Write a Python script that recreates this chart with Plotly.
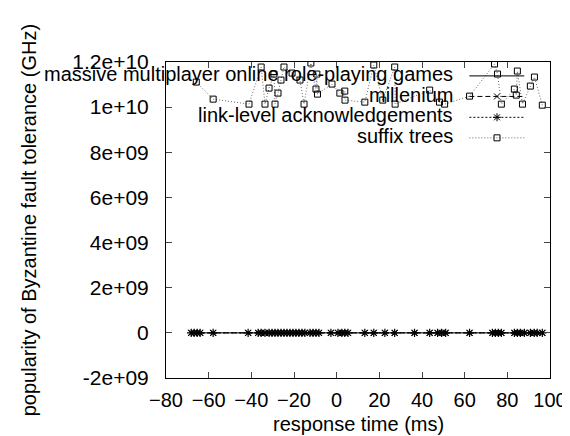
import plotly.graph_objects as go

# ---- data ----
series_names = ["massive multiplayer online role-playing games", "millenium",
                "link-level acknowledgements", "suffix trees"]

suffix_x = [-65.8, -57.9, -41.1, -35.4, -33.6, -31.7, -29.4, -28.9, -27.5, -26.1,
            -24.7, -20.9, -17.2, -15.3, -12.1, -9.7, -9.3, -9.0, -2.2, 1.5,
            3.8, 3.9, 13.2, 17.4, 21.6, 27.2, 27.4, 43.6, 48.2, 50.6,
            62.3, 74.0, 75.4, 77.2, 83.3, 84.2, 84.7, 87.1, 90.8, 92.7, 96.4]
suffix_y = [1.111e10, 1.0355e10, 1.0133e10, 1.1777e10, 1.0133e10, 1.0844e10, 1.1466e10, 1.0133e10, 1.0622e10, 1.12e10,
            1.1777e10, 1.151e10, 1.12e10, 1.0133e10, 1.1955e10, 1.08e10, 1.1466e10, 1.0577e10, 1.1022e10, 1.0622e10,
            1.0711e10, 1.0311e10, 1.0222e10, 1.1866e10, 1.0311e10, 1.1777e10, 1.0133e10, 1.0755e10, 1.0222e10, 1.0133e10,
            1.0488e10, 1.1911e10, 1.1466e10, 1.0133e10, 1.08e10, 1.0533e10, 1.16e10, 1.0133e10, 1.0933e10, 1.1333e10,
            1.0088e10]

bottom_x = [-68.2, -66.8, -65.4, -64.0, -57.9, -41.5, -36.8, -35.4, -33.6, -31.7,
            -30.3, -28.9, -27.5, -26.1, -24.7, -23.3, -21.9, -20.5, -19.1, -17.7,
            -16.3, -14.9, -12.5, -11.1, -9.7, -8.3, -2.7, 0.6, 2.4, 3.8,
            5.3, 13.2, 17.4, 22.6, 27.2, 36.5, 43.6, 47.3, 49.2, 51.1,
            62.3, 73.0, 74.4, 75.8, 77.2, 83.3, 84.7, 86.1, 88.0, 90.8,
            92.6, 94.0, 96.4]
bottom_y = [0, 0, 0, 0, 0, 0, 0, 0, 0, 0,
            0, 0, 0, 0, 0, 0, 0, 0, 0, 0,
            0, 0, 0, 0, 0, 0, 0, 0, 0, 0,
            0, 0, 0, 0, 0, 0, 0, 0, 0, 0,
            0, 0, 0, 0, 0, 0, 0, 0, 0, 0,
            0, 0, 0]

x_ticks = [-80, -60, -40, -20, 0, 20, 40, 60, 80, 100]
y_ticks = [-2e9, 0, 2e9, 4e9, 6e9, 8e9, 1e10, 1.2e10]
y_tick_text = ["-2e+09", "0", "2e+09", "4e+09", "6e+09", "8e+09", "1e+10", "1.2e+10"]
x_title = "response time (ms)"
y_title = "popularity of Byzantine fault tolerance (GHz)"

FONT = "Liberation Sans, Arial, Helvetica, sans-serif"

fig = go.Figure()
fig.add_trace(go.Scatter(x=bottom_x, y=bottom_y, mode="lines", name=series_names[0],
                         line=dict(color="black", width=1)))
fig.add_trace(go.Scatter(x=bottom_x, y=bottom_y, mode="lines+markers", name=series_names[1],
                         line=dict(color="black", width=1, dash="5px,3px"),
                         marker=dict(symbol="x-thin-open", size=6, color="black",
                                     line=dict(color="black", width=1))))
fig.add_trace(go.Scatter(x=bottom_x, y=bottom_y, mode="lines+markers", name=series_names[2],
                         line=dict(color="black", width=1, dash="2px,2px"),
                         marker=dict(symbol="asterisk-open", size=7, color="black",
                                     line=dict(color="black", width=1.2))))
fig.add_trace(go.Scatter(x=suffix_x, y=suffix_y, mode="lines+markers", name=series_names[3],
                         line=dict(color="#666666", width=1, dash="1px,2px"),
                         marker=dict(symbol="square-open", size=6, color="black",
                                     line=dict(color="black", width=1))))

# ---- gnuplot-style key (text right-aligned, sample on the right) ----
rows = [0.962, 0.897, 0.831, 0.766]
text_x = 0.752
samp_x0, samp_x1, samp_c = 0.790, 0.933, 0.862
dashes = ["solid", "5px,3px", "2px,2px", "1px,2px"]
colors = ["black", "black", "black", "#666666"]
shapes = []
annotations = []
for i, name in enumerate(series_names):
    annotations.append(dict(x=text_x, y=rows[i], xref="paper", yref="paper", text=name,
                            showarrow=False, xanchor="right", yanchor="middle",
                            font=dict(family=FONT, size=20, color="black")))
    shapes.append(dict(type="line", xref="paper", yref="paper", x0=samp_x0, x1=samp_x1,
                       y0=rows[i] - 0.006, y1=rows[i] - 0.006,
                       line=dict(color=colors[i], width=1, dash=dashes[i])))

def pix_line(xa, ya, x0, y0, x1, y1):
    return dict(type="line", xref="paper", yref="paper", xsizemode="pixel", ysizemode="pixel",
                xanchor=xa, yanchor=ya, x0=x0, y0=y0, x1=x1, y1=y1,
                line=dict(color="black", width=1))

# millenium: x
shapes.append(pix_line(samp_c, rows[1] - 0.006, -3, -3, 3, 3))
shapes.append(pix_line(samp_c, rows[1] - 0.006, -3, 3, 3, -3))
# link-level: asterisk
shapes.append(pix_line(samp_c, rows[2] - 0.006, -3, -3, 3, 3))
shapes.append(pix_line(samp_c, rows[2] - 0.006, -3, 3, 3, -3))
shapes.append(pix_line(samp_c, rows[2] - 0.006, -4, 0, 4, 0))
shapes.append(pix_line(samp_c, rows[2] - 0.006, 0, -4, 0, 4))
# suffix trees: square
shapes.append(dict(type="rect", xref="paper", yref="paper", xsizemode="pixel", ysizemode="pixel",
                   xanchor=samp_c, yanchor=rows[3] - 0.006, x0=-3, y0=-3, x1=3, y1=3,
                   line=dict(color="black", width=1), fillcolor="rgba(0,0,0,0)"))

# axis titles placed as annotations (gnuplot positions)
annotations.append(dict(x=0.5, y=-0.146, xref="paper", yref="paper", text=x_title,
                        showarrow=False, xanchor="center", yanchor="middle",
                        font=dict(family=FONT, size=20, color="black")))
annotations.append(dict(x=-0.356, y=0.5, xref="paper", yref="paper", text=y_title,
                        showarrow=False, xanchor="center", yanchor="middle", textangle=-90,
                        font=dict(family=FONT, size=20, color="black")))

fig.update_layout(
    width=570, height=436,
    margin=dict(l=158, r=28, t=54, b=66),
    paper_bgcolor="white", plot_bgcolor="white",
    showlegend=False,
    font=dict(family=FONT, size=20, color="black"),
    shapes=shapes, annotations=annotations,
    xaxis=dict(range=[-80, 100], tickvals=x_ticks, ticks="inside", ticklen=6,
               showline=True, linecolor="black", linewidth=1, mirror="ticks",
               showgrid=False, zeroline=False, ticklabelstandoff=4, automargin=False),
    yaxis=dict(range=[-2e9, 1.2e10], tickvals=y_ticks, ticktext=y_tick_text,
               ticks="inside", ticklen=6, tickfont=dict(size=21),
               showline=True, linecolor="black", linewidth=1, mirror="ticks",
               showgrid=False, zeroline=False, ticklabelstandoff=12, automargin=False),
)

fig.write_html("out.html")
